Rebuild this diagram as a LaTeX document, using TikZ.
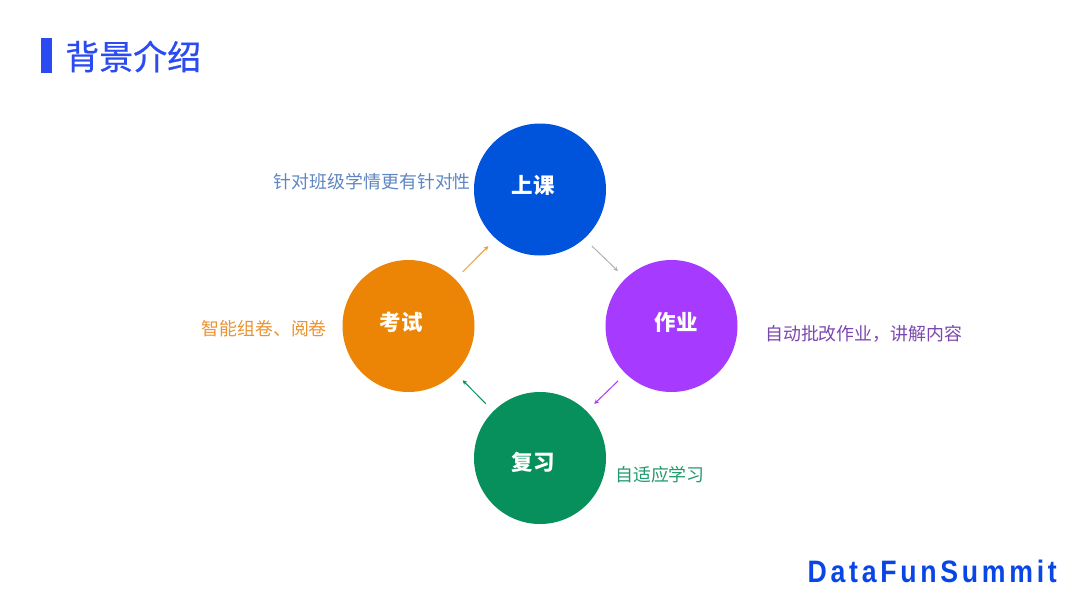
\documentclass[tikz,border=0pt]{standalone}
\usepackage{fontspec}
\setmainfont{Noto Sans CJK SC}
\newfontfamily\titlefont[FakeBold=0.6]{Noto Sans CJK SC}
\newfontfamily\logofont[LetterSpace=14]{Liberation Sans}
\usetikzlibrary{arrows.meta}
\definecolor{titleblue}{HTML}{2B4BF2}
\definecolor{classblue}{HTML}{0053DB}
\definecolor{workpurple}{HTML}{A63BFF}
\definecolor{reviewgreen}{HTML}{07905B}
\definecolor{examorange}{HTML}{EC8506}
\definecolor{logoblue}{HTML}{0A46E6}
\definecolor{classnotecolor}{HTML}{5F86C2}
\definecolor{worknotecolor}{HTML}{7D48AE}
\definecolor{examnotecolor}{HTML}{EC9330}
\definecolor{reviewnotecolor}{HTML}{1F9A6C}
\tikzset{
    stage/.style={circle,minimum size=132pt,inner sep=0pt},
    stagetext/.style={text=white,font=\fontsize{21.5}{22}\selectfont\bfseries,inner sep=0pt},
    note/.style={font=\fontsize{17.9}{18}\selectfont,inner sep=0pt},
    link/.style={-{Stealth[length=4.5pt,width=4.5pt]},line width=1pt,shorten <=10.5pt,shorten >=10.5pt}
}
\begin{document}
\begin{tikzpicture}[x=1pt,y=-1pt]
    \useasboundingbox[fill=white] (0,0) rectangle (1080,608);
    % title
    \node (titlebar) [fill=titleblue,minimum width=11pt,minimum height=35pt,inner sep=0pt] at (46,55.5) {};
    \node (title) [text=titleblue,font=\titlefont\fontsize{34}{34}\selectfont,inner sep=0pt,anchor=west] at (65,56.5) {背景介绍};
    % circles
    \node (class) [stage,fill=classblue] at (540,189.5) {};
    \node (work) [stage,fill=workpurple] at (671.5,326) {};
    \node (review) [stage,fill=reviewgreen] at (540,458) {};
    \node (exam) [stage,fill=examorange] at (408.5,326) {};
    \node (classtext) [stagetext] at (533,185) {上课};
    \node (worktext) [stagetext] at (676,322) {作业};
    \node (reviewtext) [stagetext] at (533,462) {复习};
    \node (examtext) [stagetext] at (401,322) {考试};
    % arrows
    \draw [link,draw=black!30] (class.-48) -- (work.134);
    \draw [link,draw=workpurple] (work.226) -- (review.45);
    \draw [link,draw=reviewgreen] (review.135) -- (exam.-45);
    \draw [link,draw=examorange!80] (exam.45) -- (class.228);
    % notes
    \node (classnote) [note,text=classnotecolor,anchor=east] at (471,182) {针对班级学情更有针对性};
    \node (worknote) [note,text=worknotecolor,anchor=west] at (765,334) {自动批改作业\char"FF0C 讲解内容};
    \node (reviewnote) [note,text=reviewnotecolor,anchor=west] at (615,475) {自适应学习};
    \node (examnote) [note,text=examnotecolor,anchor=east] at (327,329) {智能组卷、阅卷};
    % logo
    \node (logo) [text=logoblue,font=\logofont\fontsize{31}{31}\selectfont\bfseries,xscale=0.86,inner sep=0pt,anchor=east] at (1057,571) {DataFunSummit};
\end{tikzpicture}
\end{document}
